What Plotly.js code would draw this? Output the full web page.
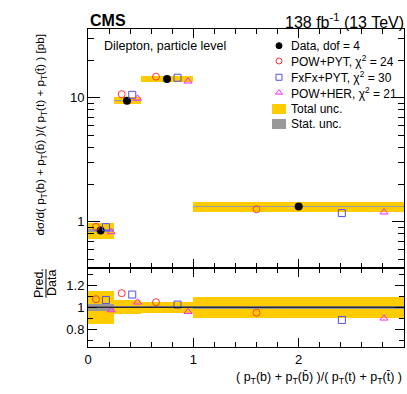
<!DOCTYPE html>
<html>
<head>
<meta charset="utf-8">
<title>pt(b)/pt(t) ratio</title>
<script src="https://cdn.plot.ly/plotly-3.0.1.min.js"></script>
<style>
  html, body { margin: 0; padding: 0; background: #fff; }
  #chart { width: 407px; height: 394px; }
</style>
</head>
<body>
<div id="chart"></div>
<script>
// bins of (pT(b)+pT(bbar))/(pT(t)+pT(tbar))
const binLo = [0, 0.25, 0.5, 1];
const binHi = [0.25, 0.5, 1, 3];

// data (pb) and relative uncertainties
const dataX = [0.12, 0.37, 0.75, 2.0];
const dataY = [0.85, 9.5, 14.2, 1.33];
const totRel = [0.15, 0.065, 0.05, 0.097];
const statRel = [0.03, 0.01, 0.008, 0.012];

// predictions as ratio to data, with their drawn x offsets
const powpytX = [0.076, 0.32, 0.645, 1.6];
const powpytR = [1.073, 1.127, 1.045, 0.951];
const fxfxX = [0.17, 0.42, 0.85, 2.41];
const fxfxR = [1.066, 1.115, 1.024, 0.885];
const powherX = [0.22, 0.47, 0.95, 2.81];
const powherR = [0.975, 1.045, 0.96, 0.90];

// legend entries
const legNames = ['Data, dof = 4', 'POW+PYT, χ<sup>2</sup> = 24', 'FxFx+PYT, χ<sup>2</sup> = 30',
                  'POW+HER, χ<sup>2</sup> = 21', 'Total unc.', 'Stat. unc.'];

const yellow = '#ffcc00';
const grey = '#999999';
const cPowpyt = '#ff3333', cFxfx = '#5050ee', cPowher = '#ff22ff';
const font = 'Liberation Sans, Arial, sans-serif';

const centers = binLo.map((lo, i) => (lo + binHi[i]) / 2);
const widths = binLo.map((lo, i) => binHi[i] - lo);
const ones = dataY.map(() => 1);

function band(rel, scale, color, yax) {
  return {
    type: 'bar', x: centers, width: widths,
    base: scale.map((v, i) => v * (1 - rel[i])),
    y: scale.map((v, i) => v * 2 * rel[i]),
    marker: { color: color, line: { width: 0 } },
    showlegend: false, xaxis: yax === 'y' ? 'x' : 'x2', yaxis: yax, hoverinfo: 'skip'
  };
}

function pred(xs, r, sym, color) {
  const mk = { symbol: sym, size: 7, color: color, line: { color: color, width: 1 } };
  return [
    { type: 'scatter', mode: 'markers', x: xs, y: r.map((v, i) => v * dataY[i]),
      marker: mk, showlegend: false, xaxis: 'x', yaxis: 'y' },
    { type: 'scatter', mode: 'markers', x: xs, y: r,
      marker: mk, showlegend: false, xaxis: 'x2', yaxis: 'y2' }
  ];
}

// legend layout: pixel rows converted to paper units (plot area x 88..404, y 29..347)
const px = v => (v - 88) / 316;
const py = v => (347 - v) / 318;
const pyTop = v => (268 - v) / 239;   // same rows in the upper panel's own 0..1 frame
const legRowPx = [45.7, 61, 77.3, 92.7, 109, 124];
const legSym = ['circle', 'circle-open', 'square-open', 'triangle-up-open'];
const legCol = ['black', cPowpyt, cFxfx, cPowher];

const traces = [
  band(totRel, dataY, yellow, 'y'),
  band(statRel, dataY, grey, 'y'),
  band(totRel, ones, yellow, 'y2'),
  band(statRel, ones, grey, 'y2'),
  { type: 'scatter', mode: 'markers', x: dataX, y: dataY,
    marker: { symbol: 'circle', size: 8, color: 'black' },
    showlegend: false, xaxis: 'x', yaxis: 'y' },
  ...pred(powpytX, powpytR, 'circle-open', cPowpyt),
  ...pred(fxfxX, fxfxR, 'square-open', cFxfx),
  ...pred(powherX, powherR, 'triangle-up-open', cPowher),
  // legend keys on an invisible overlay axis of the upper panel
  { type: 'scatter', mode: 'markers', x: legSym.map(() => px(279)),
    y: legRowPx.slice(0, 4).map(pyTop),
    marker: { symbol: legSym, size: 6, color: legCol, line: { color: legCol, width: 1 } },
    showlegend: false, xaxis: 'x3', yaxis: 'y3', hoverinfo: 'skip' }
];

const axisCommon = {
  showline: true, linecolor: 'black', linewidth: 1, mirror: 'allticks',
  ticks: 'inside', tickcolor: 'black', showgrid: false, zeroline: false,
  tickfont: { family: font, size: 13, color: 'black' }
};

const legendText = legNames.map((t, i) => ({
  text: t, xref: 'paper', yref: 'paper', x: px(288.5), y: py(legRowPx[i]),
  xanchor: 'left', yanchor: 'middle', showarrow: false,
  font: { family: font, size: 12, color: 'black' }
}));

const legendBoxes = [yellow, grey].map((c, i) => ({
  type: 'rect', xref: 'paper', yref: 'paper', layer: 'above',
  x0: px(272), x1: px(286), y0: py(legRowPx[4 + i] + 5), y1: py(legRowPx[4 + i] - 5),
  fillcolor: c, line: { width: 0 }
}));

const layout = {
  width: 407, height: 394,
  margin: { l: 88, r: 3, t: 29, b: 47, autoexpand: false },
  paper_bgcolor: 'white', plot_bgcolor: 'white',
  barmode: 'overlay', bargap: 0, showlegend: false,
  font: { family: font, color: 'black' },
  xaxis: Object.assign({}, axisCommon, {
    range: [0, 3], anchor: 'y', matches: 'x2', showticklabels: false,
    tickvals: [0, 1, 2], ticklen: 9,
    minor: { dtick: 0.2, ticks: 'inside', ticklen: 5, tickcolor: 'black' }
  }),
  yaxis: Object.assign({}, axisCommon, {
    type: 'log', range: [-0.371, 1.556], domain: [0.249, 1], anchor: 'x',
    tickvals: [1, 10], ticktext: ['1', '10'], ticklen: 12,
    minor: { tickvals: [0.5, 0.6, 0.7, 0.8, 0.9, 2, 3, 4, 5, 6, 7, 8, 9, 20, 30],
             ticks: 'inside', ticklen: 6, tickcolor: 'black' }
  }),
  xaxis2: Object.assign({}, axisCommon, {
    range: [0, 3], anchor: 'y2',
    tickvals: [0, 1, 2], ticktext: ['0', '1', '2'], ticklen: 9,
    minor: { dtick: 0.2, ticks: 'inside', ticklen: 5, tickcolor: 'black' }
  }),
  yaxis2: Object.assign({}, axisCommon, {
    range: [0.64, 1.357], domain: [0, 0.249], anchor: 'x2',
    tickvals: [0.8, 1, 1.2], ticktext: ['0.8', '1', '1.2'], ticklen: 9,
    minor: { dtick: 0.1, ticks: 'inside', ticklen: 5, tickcolor: 'black' }
  }),
  xaxis3: { range: [0, 1], visible: false, anchor: 'y3', overlaying: 'x' },
  yaxis3: { range: [0, 1], visible: false, anchor: 'x3', overlaying: 'y' },
  shapes: [
    { type: 'line', xref: 'x2', yref: 'y2', x0: 0, x1: 3, y0: 1, y1: 1,
      line: { color: 'black', width: 1 } },
    { type: 'line', xref: 'paper', yref: 'paper', x0: -0.133, x1: -0.133, y0: 0.155, y1: 0.245,
      line: { color: 'black', width: 1 } },
    ...legendBoxes
  ],
  annotations: [
    { text: '<b>CMS</b>', xref: 'paper', yref: 'paper', x: 0, y: 1, xanchor: 'left', yanchor: 'bottom',
      showarrow: false, font: { family: font, size: 16 }, yshift: -2 },
    { text: '138 fb<sup>-1</sup> (13 TeV)', xref: 'paper', yref: 'paper', x: 1.005, y: 1,
      xanchor: 'right', yanchor: 'bottom', showarrow: false, font: { family: font, size: 16 }, yshift: -4 },
    { text: 'Dilepton, particle level', xref: 'paper', yref: 'paper', x: 0.045, y: 0.975,
      xanchor: 'left', yanchor: 'top', showarrow: false, font: { family: font, size: 12.5 } },
    { text: 'dσ/d( p<sub>T</sub>(b) + p<sub>T</sub>(b\u0304) )/( p<sub>T</sub>(t) + p<sub>T</sub>(t\u0304) ) [pb]',
      xref: 'paper', yref: 'paper', x: -0.149, y: py(32), xanchor: 'center', yanchor: 'top',
      textangle: -90, showarrow: false, font: { family: font, size: 11.7 } },
    { text: 'Pred.', xref: 'paper', yref: 'paper', x: -0.153, y: 0.2, xanchor: 'center', yanchor: 'middle',
      textangle: -90, showarrow: false, font: { family: font, size: 12.5 } },
    { text: 'Data', xref: 'paper', yref: 'paper', x: -0.112, y: 0.2, xanchor: 'center', yanchor: 'middle',
      textangle: -90, showarrow: false, font: { family: font, size: 12.5 } },
    { text: '( p<sub>T</sub>(b) + p<sub>T</sub>(b\u0304) )/( p<sub>T</sub>(t) + p<sub>T</sub>(t\u0304) )',
      xref: 'paper', yref: 'paper', x: 1.0, y: -0.065, xanchor: 'right', yanchor: 'top',
      showarrow: false, font: { family: font, size: 12.5 } },
    ...legendText
  ]
};

Plotly.newPlot('chart', traces, layout, { displayModeBar: false, staticPlot: true });
</script>
</body>
</html>
